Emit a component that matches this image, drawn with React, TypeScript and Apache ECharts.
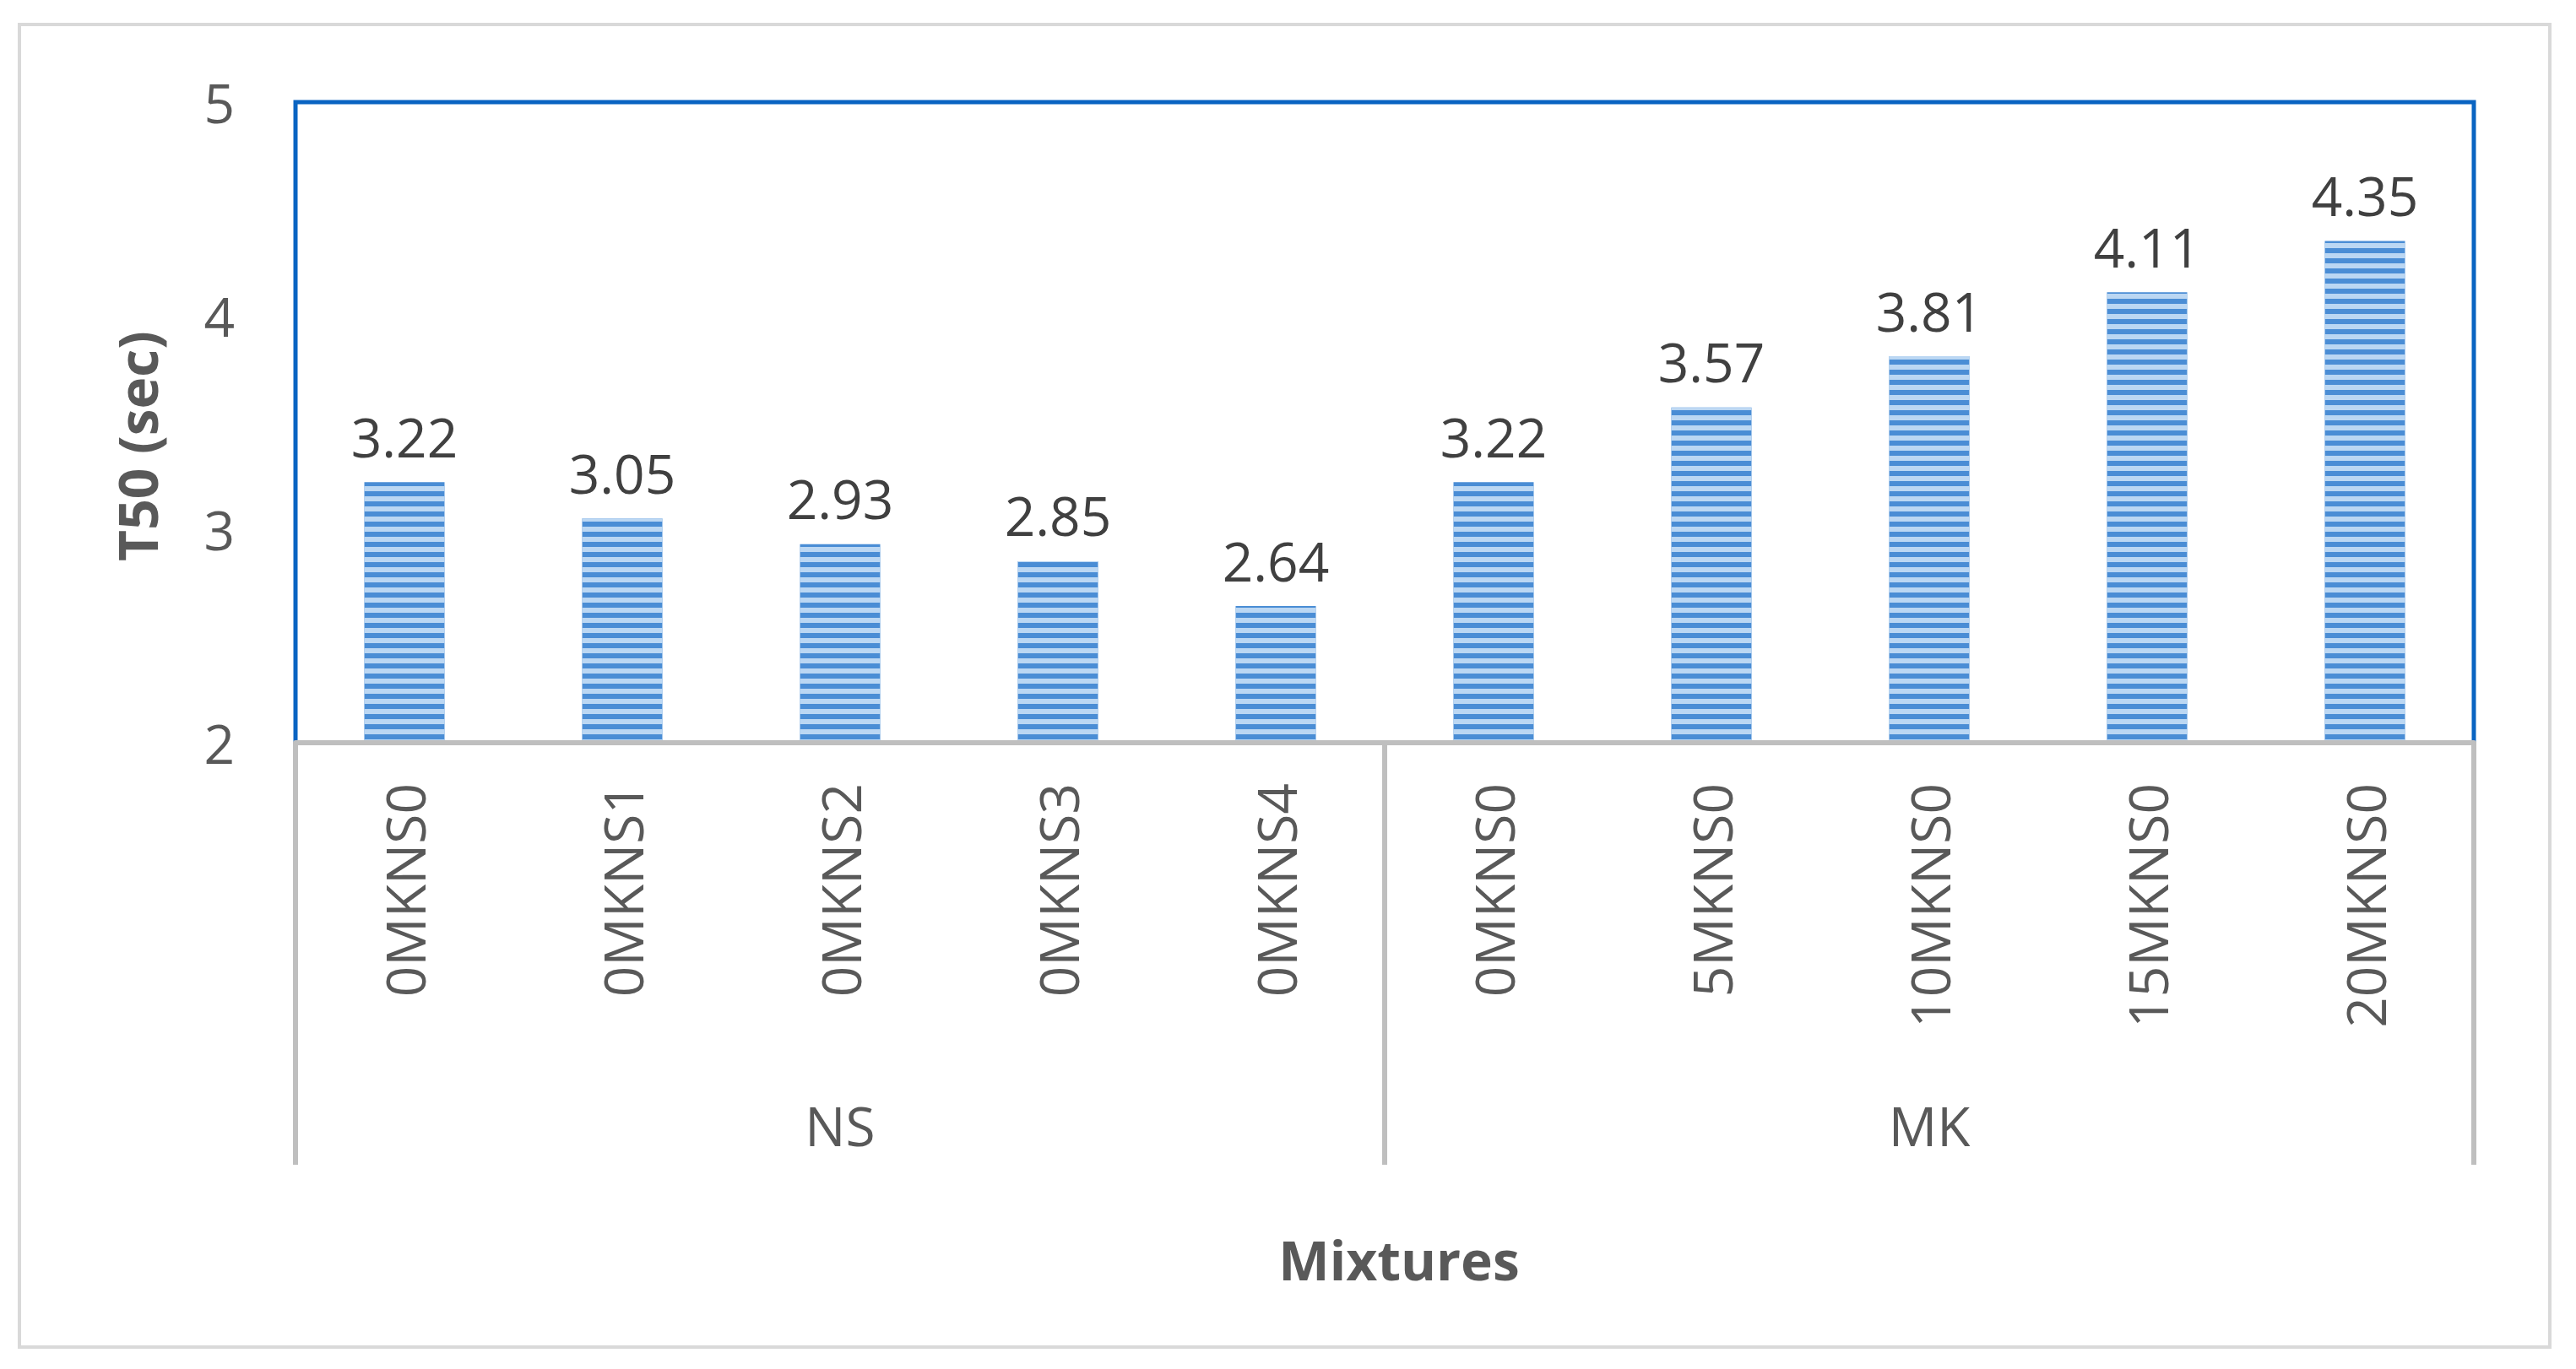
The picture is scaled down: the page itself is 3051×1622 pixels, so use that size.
import React, { useEffect, useRef } from "react";
import * as echarts from "echarts";

const categories = ["0MKNS0", "0MKNS1", "0MKNS2", "0MKNS3", "0MKNS4", "0MKNS0 ", "5MKNS0", "10MKNS0", "15MKNS0", "20MKNS0"];
const groups = ["NS", "MK"];
const values = [3.22, 3.05, 2.93, 2.85, 2.64, 3.22, 3.57, 3.81, 4.11, 4.35];
const yTicks = { min: 2, max: 5, interval: 1 };

const FONT = "'Open Sans', 'Noto Sans', sans-serif";
const GREY = "#bfbfbf";
const TEXT = "#595959";

export default function App() {
  const ref = useRef<HTMLDivElement>(null);
  useEffect(() => {
    if (!ref.current) return;
    const chart = echarts.init(ref.current, undefined, { renderer: "svg" });
    chart.setOption({
      animation: false,
      backgroundColor: "#ffffff",
      textStyle: { fontFamily: FONT },
      graphic: [
        {
          type: "rect",
          shape: { x: 23, y: 29, width: 2997, height: 1567 },
          style: { fill: "none", stroke: "#d9d9d9", lineWidth: 4 },
          silent: true,
          z: -10,
        },
      ],
      grid: {
        left: 350,
        top: 121,
        width: 2580,
        height: 759,
        show: true,
        borderColor: "#0a64c2",
        borderWidth: 5,
        backgroundColor: "transparent",
      },
      xAxis: [
        {
          type: "category",
          data: categories,
          position: "bottom",
          axisLine: { show: true, lineStyle: { color: GREY, width: 6 } },
          axisTick: { show: false },
          axisLabel: {
            interval: 0,
            rotate: 90,
            margin: 48,
            fontSize: 64,
            color: TEXT,
            fontFamily: FONT,
            formatter: (v: string) => v.trim(),
          },
          z: 5,
        },
        {
          type: "category",
          data: groups,
          position: "bottom",
          axisLine: { show: false },
          axisTick: {
            show: true,
            interval: 0,
            length: 500,
            lineStyle: { color: GREY, width: 6 },
          },
          axisLabel: {
            interval: 0,
            margin: 421,
            fontSize: 64,
            color: TEXT,
            fontFamily: FONT,
          },
          name: "Mixtures",
          nameLocation: "middle",
          nameGap: 580,
          nameTextStyle: {
            fontSize: 64,
            fontWeight: "bold",
            color: TEXT,
            fontFamily: FONT,
            padding: [0, 0, 0, 34],
          },
        },
      ],
      yAxis: {
        type: "value",
        min: yTicks.min,
        max: yTicks.max,
        interval: yTicks.interval,
        axisLine: { show: false },
        axisTick: { show: false },
        splitLine: { show: false },
        axisLabel: { fontSize: 64, color: TEXT, margin: 72, fontFamily: FONT },
        name: "T50 (sec)",
        nameLocation: "middle",
        nameGap: 156,
        nameTextStyle: {
          fontSize: 64,
          fontWeight: "bold",
          color: TEXT,
          fontFamily: FONT,
          padding: [0, 56, 0, 0],
        },
      },
      series: [
        {
          type: "bar",
          xAxisIndex: 0,
          data: values,
          barWidth: 95,
          itemStyle: {
            color: "#4a8dd5",
            decal: {
              symbol: "rect",
              symbolSize: 1,
              dashArrayX: [1, 0],
              dashArrayY: [6, 6],
              rotation: 0,
              color: "rgba(200,223,247,0.9)",
            },
          },
          label: {
            show: true,
            position: "top",
            distance: 22,
            fontSize: 64,
            color: "#404040",
            fontFamily: FONT,
            formatter: (p: any) => p.value.toFixed(2),
          },
        },
      ],
    });
    return () => chart.dispose();
  }, []);
  return (
    <div
      ref={ref}
      style={{ position: "fixed", left: 0, top: 0, width: 3051, height: 1622, background: "#fff" }}
    />
  );
}
